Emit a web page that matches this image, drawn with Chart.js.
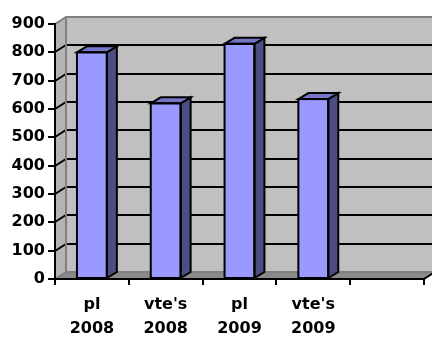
<!DOCTYPE html>
<html>
<head>
<meta charset="utf-8">
<script src="https://cdn.jsdelivr.net/npm/chart.js@4"></script>
<style>
  html, body { margin: 0; padding: 0; background: #fff; }
  #wrap { width: 432px; height: 338px; }
</style>
</head>
<body>
<div id="wrap"><canvas id="bars" width="432" height="338"></canvas></div>
<script>
/* ================================================
   DATA
================================================ */

const categories = [['pl', '2008'], ["vte's", '2008'], ['pl', '2009'], ["vte's", '2009'], ''];
const values     = [800, 620, 830, 635, null];
const yTicks     = [0, 100, 200, 300, 400, 500, 600, 700, 800, 900];

/* ================================================
   3D LOOK — wall, floor and bar depth
================================================ */

const WALL_DX = 11, WALL_DY = 7;   /* depth of the back wall */
const BAR_DX  = 10, BAR_DY  = 6;   /* depth of each column */

const wallPlugin = {
  id: 'wall3d',
  beforeDraw(chart) {
    const { ctx, chartArea: a, scales: { y } } = chart;
    const top = y.getPixelForValue(yTicks[yTicks.length - 1]);
    const bot = y.getPixelForValue(0);

    ctx.save();

    /* back wall */
    ctx.fillStyle = '#c0c0c0';
    ctx.fillRect(a.left + WALL_DX, top - WALL_DY, a.right - a.left + 20, bot - top);

    /* left side wall */
    ctx.fillStyle = '#b4b4b4';
    ctx.beginPath();
    ctx.moveTo(a.left, top);
    ctx.lineTo(a.left + WALL_DX, top - WALL_DY);
    ctx.lineTo(a.left + WALL_DX, bot - WALL_DY);
    ctx.lineTo(a.left, bot);
    ctx.closePath();
    ctx.fill();

    /* floor */
    ctx.fillStyle = '#8a8a8a';
    ctx.beginPath();
    ctx.moveTo(a.left, bot);
    ctx.lineTo(a.left + WALL_DX, bot - WALL_DY);
    ctx.lineTo(a.right + WALL_DX, bot - WALL_DY);
    ctx.lineTo(a.right, bot);
    ctx.closePath();
    ctx.fill();

    /* gridlines: diagonal on the side wall, flat on the back wall */
    ctx.lineWidth = 2;
    ctx.strokeStyle = '#000';
    yTicks.slice(1, -1).forEach(v => {
      const py = Math.round(y.getPixelForValue(v));
      ctx.beginPath();
      ctx.moveTo(a.left, py);
      ctx.lineTo(a.left + WALL_DX, py - WALL_DY);
      ctx.lineTo(a.right + WALL_DX + 20, py - WALL_DY);
      ctx.stroke();
    });

    /* wall edges */
    ctx.strokeStyle = '#808080';
    ctx.beginPath();
    ctx.moveTo(a.left, top);
    ctx.lineTo(a.left + WALL_DX, top - WALL_DY);
    ctx.lineTo(a.right + WALL_DX + 20, top - WALL_DY);
    ctx.moveTo(a.left + WALL_DX, top - WALL_DY);
    ctx.lineTo(a.left + WALL_DX, bot - WALL_DY);
    ctx.lineTo(a.right + WALL_DX + 20, bot - WALL_DY);
    ctx.moveTo(a.left, bot);
    ctx.lineTo(a.left + WALL_DX, bot - WALL_DY);
    ctx.stroke();

    ctx.restore();
  },
  afterDraw(chart) {
    const { ctx, chartArea: a, scales: { y } } = chart;
    const bot = y.getPixelForValue(0);
    /* right end of the floor */
    ctx.save();
    ctx.strokeStyle = '#000';
    ctx.lineWidth = 2;
    ctx.beginPath();
    ctx.moveTo(a.right, bot);
    ctx.lineTo(a.right + WALL_DX, bot - WALL_DY);
    ctx.stroke();
    ctx.restore();
  },
  afterDatasetsDraw(chart) {
    const { ctx } = chart;
    const meta = chart.getDatasetMeta(0);

    ctx.save();
    ctx.lineWidth = 2;
    ctx.strokeStyle = '#000';
    ctx.lineJoin = 'miter';

    meta.data.forEach((bar, i) => {
      if (values[i] == null) return;
      const { x, y, width, base } = bar.getProps(['x', 'y', 'width', 'base'], true);
      const l = x - width / 2, r = x + width / 2;

      /* side face */
      ctx.fillStyle = '#4d4d85';
      ctx.beginPath();
      ctx.moveTo(r, y);
      ctx.lineTo(r + BAR_DX, y - BAR_DY);
      ctx.lineTo(r + BAR_DX, base - BAR_DY);
      ctx.lineTo(r, base);
      ctx.closePath();
      ctx.fill();
      ctx.stroke();

      /* top face */
      ctx.fillStyle = '#7575c8';
      ctx.beginPath();
      ctx.moveTo(l, y);
      ctx.lineTo(l + BAR_DX, y - BAR_DY);
      ctx.lineTo(r + BAR_DX, y - BAR_DY);
      ctx.lineTo(r, y);
      ctx.closePath();
      ctx.fill();
      ctx.stroke();

      /* front face outline */
      ctx.strokeRect(l, y, width, base - y);
    });

    ctx.restore();
  },
};

/* ================================================
   BUILD CHART
================================================ */

const FONT = { family: '"DejaVu Sans", sans-serif', size: 16, weight: 'bold', lineHeight: 1.5 };

new Chart(document.getElementById('bars').getContext('2d'), {
  type: 'bar',
  data: {
    labels: categories,
    datasets: [{
      data:            values,
      backgroundColor: '#9999ff',
      borderWidth:     0,
      categoryPercentage: 1,
      barPercentage:   0.405,
    }],
  },
  options: {
    responsive: false,
    animation:  false,
    layout: { padding: { top: 24, right: 8, left: 0, bottom: 0 } },
    plugins: {
      legend:  { display: false },
      tooltip: { enabled: false },
    },
    scales: {
      x: {
        afterFit: s => { s.height = 59; },
        grid:   { drawOnChartArea: false, color: '#000', lineWidth: 2, tickLength: 6, offset: true },
        border: { color: '#000', width: 2 },
        ticks:  { color: '#000', font: FONT, padding: 8, maxRotation: 0, autoSkip: false },
      },
      y: {
        min: 0,
        max: 900,
        afterFit: s => { s.width = 55; },
        afterBuildTicks: s => { s.ticks = yTicks.map(v => ({ value: v })); },
        grid:   { drawOnChartArea: false, color: '#000', lineWidth: 2, tickLength: 7 },
        border: { color: '#000', width: 2 },
        ticks:  { color: '#000', font: FONT, padding: 3 },
      },
    },
  },
  plugins: [wallPlugin],
});
</script>
</body>
</html>
